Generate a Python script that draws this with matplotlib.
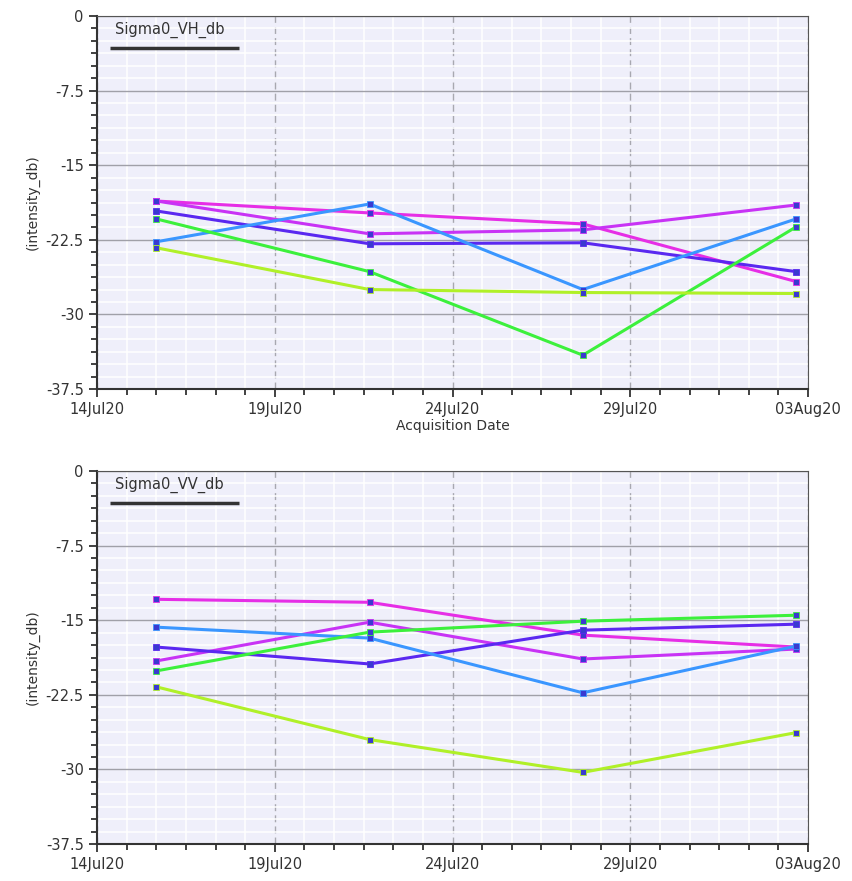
import numpy as np
import matplotlib
matplotlib.use("Agg")
import matplotlib.pyplot as plt
import matplotlib.dates as mdates
from matplotlib.ticker import MultipleLocator, AutoMinorLocator, FuncFormatter
import datetime as dt

# acquisition dates (afternoon passes)
dates = [dt.datetime(2020, 7, 15, 16), dt.datetime(2020, 7, 21, 16),
         dt.datetime(2020, 7, 27, 16), dt.datetime(2020, 8, 2, 16)]

colors = ["#e62ee6", "#c833f5", "#5a28f0", "#3a96ff", "#3cf03c", "#b0f028"]

# Sigma0_VH_db, one list per pin
vh_1 = [-18.6, -19.8, -20.9, -26.7]
vh_2 = [-18.6, -21.9, -21.5, -19.0]
vh_3 = [-19.6, -22.9, -22.8, -25.7]
vh_4 = [-22.7, -18.9, -27.5, -20.4]
vh_5 = [-20.4, -25.7, -34.1, -21.2]
vh_6 = [-23.3, -27.5, -27.8, -27.9]

# Sigma0_VV_db
vv_1 = [-12.9, -13.2, -16.5, -17.7]
vv_2 = [-19.1, -15.2, -18.9, -17.9]
vv_3 = [-17.7, -19.4, -16.0, -15.4]
vv_4 = [-15.7, -16.8, -22.3, -17.6]
vv_5 = [-20.1, -16.2, -15.1, -14.5]
vv_6 = [-21.7, -27.0, -30.3, -26.3]

vh = [vh_1, vh_2, vh_3, vh_4, vh_5, vh_6]
vv = [vv_1, vv_2, vv_3, vv_4, vv_5, vv_6]

fig = plt.figure(figsize=(8.52, 8.81), dpi=100)
ax1 = fig.add_axes([97/852, 1-389/881, 711/852, 373/881])
ax2 = fig.add_axes([97/852, 1-844/881, 711/852, 373/881])


def style(ax, title, xlabel):
    ax.set_facecolor("#efeffa")
    ax.set_xlim(dt.datetime(2020, 7, 14), dt.datetime(2020, 8, 3))
    ax.set_ylim(-37.5, 0)
    ax.yaxis.set_major_locator(MultipleLocator(7.5))
    ax.yaxis.set_minor_locator(AutoMinorLocator(6))
    ax.yaxis.set_major_formatter(FuncFormatter(lambda v, p: "%g" % v))
    ax.xaxis.set_major_locator(mdates.DayLocator(bymonthday=[3, 14, 19, 24, 29]))
    ax.xaxis.set_major_formatter(mdates.DateFormatter("%d%b%y"))
    ax.xaxis.set_minor_locator(AutoMinorLocator(6))
    ax.grid(which="minor", color="white", lw=1.1)
    ax.grid(which="major", axis="y", color="#a0a0a8", lw=1.0)
    ax.grid(which="major", axis="x", color="#a8a8b0", lw=1.0, ls=(0, (5, 3)))
    ax.set_axisbelow(True)
    ax.tick_params(which="both", direction="out", color="#333333", labelsize=10.5,
                   labelcolor="#333333")
    ax.tick_params(which="major", length=6, width=1.3)
    ax.tick_params(which="minor", length=4, width=1.3)
    for s in ["top", "right"]:
        ax.spines[s].set_color("#555555")
    for s in ["left", "bottom"]:
        ax.spines[s].set_color("#333333")
        ax.spines[s].set_linewidth(1.5)
    ax.set_ylabel("(intensity_db)", fontsize=10, color="#333333", labelpad=4)
    if xlabel:
        ax.set_xlabel("Acquisition Date", fontsize=10, color="#333333", labelpad=1)
    ax.text(0.025, 0.985, title, transform=ax.transAxes, fontsize=10.5,
            color="#333333", va="top", ha="left")
    ax.plot([0.018, 0.2], [0.915, 0.915], transform=ax.transAxes,
            color="#333333", lw=2.5, solid_capstyle="butt")


for ax, data, title, xl in [(ax1, vh, "Sigma0_VH_db", True),
                            (ax2, vv, "Sigma0_VV_db", False)]:
    style(ax, title, xl)
    for vals, c in zip(data, colors):
        ax.plot(dates, vals, color=c, lw=2.2, marker="s", ms=4,
                mfc="#3a3ad0", mec=c, mew=0.6)

fig.savefig("out.png", dpi=100)
